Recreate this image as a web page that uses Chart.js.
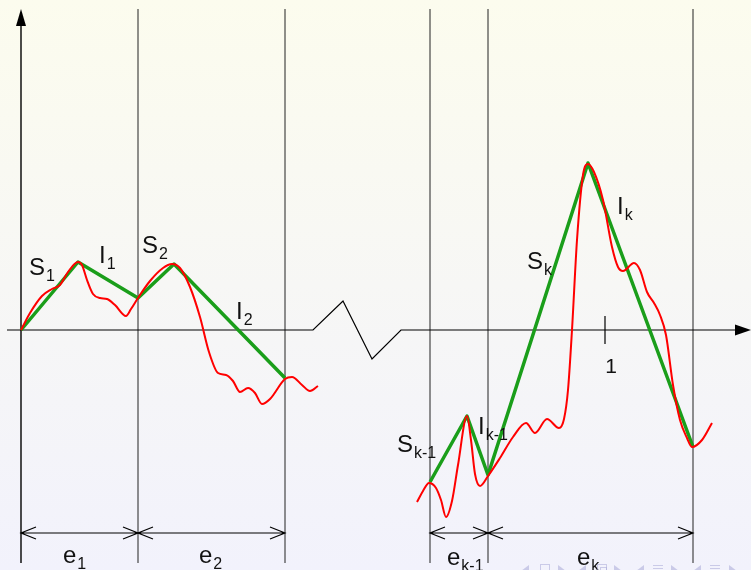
<!DOCTYPE html>
<html>
<head>
<meta charset="utf-8">
<style>
  html, body { margin: 0; padding: 0; overflow: hidden; background: #f7f7f5; }
  #wrap { width: 751px; height: 570px; }
</style>
<script src="https://cdn.jsdelivr.net/npm/chart.js@4/dist/chart.umd.min.js"></script>
</head>
<body>
<div id="wrap"><canvas id="c" width="751" height="570"></canvas></div>
<script>
// Signal (red) over the first two intervals e1, e2
const signalAX = [0, 9, 21, 31, 39, 47, 57, 61, 66, 72, 79, 86, 94, 105, 110, 117, 129, 142, 151, 159, 169, 179, 188, 197, 205, 212, 219, 227, 234, 241, 249, 264, 271, 281, 289, 297];
const signalAY = [0, 17, 34, 41, 45, 58, 68, 65, 50, 36, 32, 31, 25, 14, 21, 32, 49, 62, 66, 62, 43, 13, -22, -43, -45, -51, -62, -58, -63, -74, -69, -49, -47, -55, -61, -56];

// Signal (red) over the intervals e(k-1), ek
const signalBX = [396, 402, 408, 415, 420, 425, 431, 437, 446, 450, 454, 459, 467, 479, 492, 505, 514, 526, 538, 543, 547, 551, 556, 562, 567, 573, 582, 591, 597, 602, 613, 619, 626, 633, 639, 645, 652, 659, 666, 671, 681, 691];
const signalBY = [-172, -161, -153, -158, -170, -187, -171, -135, -86, -110, -144, -156, -146, -128, -107, -93, -103, -89, -98, -89, -60, 0, 90, 155, 166, 158, 130, 83, 63, 59, 67, 60, 38, 27, 15, -5, -55, -90, -108, -117, -110, -93];

// Piecewise-linear approximation (green): slope S / intercept I segments
const approxAX = [0, 57, 117, 153, 264];
const approxAY = [0, 68, 32, 66, -48];
const approxBX = [409, 446, 467, 567, 672];
const approxBY = [-152, -86, -145, 167, -117];

// Interval boundaries and the dimension arrows below them
const boundaries = [117, 264, 409, 467, 672];
const intervals = [[0, 117], [117, 264], [409, 467], [467, 672]];
const intervalNames = ['1', '2', 'k-1', 'k'];

// Horizontal axis with a break between the two groups
const axisPathX = [-14, 292, 322, 351, 380, 730];
const axisPathY = [0, 0, 29, -29, 0, 0];

// Unit tick on the horizontal axis
const unitTick = 584;
const unitLabel = '1';

// Segment labels: base letter, subscript, anchor (baseline-left)
const labelMain = ['S', 'I', 'S', 'I', 'S', 'I', 'S', 'I'];
const labelSub = ['1', '1', '2', '2', 'k-1', 'k-1', 'k', 'k'];
const labelX = [8, 78, 121, 215, 376, 457, 506, 596];
const labelY = [55, 67, 77, 11, -122, -104, 61, 116];

// Interval name anchors
const eLabelX = [42, 178, 426, 556];
const eLabelY = [-233, -233, -235, -235];

const pts = (xs, ys) => xs.map((x, i) => ({ x: x, y: ys[i] }));

const FONT = '"Liberation Sans", Arial, sans-serif';

function drawSubLabel(ctx, px, py, main, sub) {
  ctx.font = '24px ' + FONT;
  ctx.textBaseline = 'alphabetic';
  ctx.textAlign = 'left';
  ctx.fillText(main, px, py);
  const w = ctx.measureText(main).width;
  ctx.font = '16px ' + FONT;
  ctx.fillText(sub, px + w + 1, py + 6);
}

const decor = {
  id: 'decor',
  beforeDraw(chart) {
    const { ctx, width, height } = chart;
    const g = ctx.createLinearGradient(0, 0, 0, height);
    g.addColorStop(0, '#fcfcee');
    g.addColorStop(1, '#f2f2fc');
    ctx.save();
    ctx.fillStyle = g;
    ctx.fillRect(0, 0, width, height);
    ctx.restore();
  },
  beforeDatasetsDraw(chart) {
    const ctx = chart.ctx;
    const xs = chart.scales.x, ys = chart.scales.y;
    const X = v => xs.getPixelForValue(v), Y = v => ys.getPixelForValue(v);
    const top = 321, bottom = -233;
    ctx.save();
    ctx.lineCap = 'butt';

    // interval boundaries
    ctx.strokeStyle = '#222';
    ctx.lineWidth = 1;
    boundaries.forEach(b => {
      ctx.beginPath();
      ctx.moveTo(X(b), Y(top));
      ctx.lineTo(X(b), Y(bottom));
      ctx.stroke();
    });

    // vertical axis with arrow
    ctx.strokeStyle = '#000';
    ctx.lineWidth = 1.4;
    ctx.beginPath();
    ctx.moveTo(X(0), Y(bottom));
    ctx.lineTo(X(0), Y(306));
    ctx.stroke();
    ctx.fillStyle = '#000';
    ctx.beginPath();
    ctx.moveTo(X(0), Y(top));
    ctx.lineTo(X(0) - 5, Y(304));
    ctx.lineTo(X(0) + 5, Y(304));
    ctx.closePath();
    ctx.fill();

    // horizontal axis with break and arrow
    ctx.lineWidth = 1.2;
    ctx.lineJoin = 'miter';
    ctx.beginPath();
    axisPathX.forEach((x, i) => {
      const last = i === axisPathX.length - 1;
      const px = last ? X(x) - 14 : X(x);
      if (i === 0) ctx.moveTo(px, Y(axisPathY[i]));
      else ctx.lineTo(px, Y(axisPathY[i]));
    });
    ctx.stroke();
    const tipX = X(axisPathX[axisPathX.length - 1]);
    ctx.beginPath();
    ctx.moveTo(tipX, Y(0));
    ctx.lineTo(tipX - 16, Y(0) - 5.5);
    ctx.lineTo(tipX - 16, Y(0) + 5.5);
    ctx.closePath();
    ctx.fill();

    // unit tick
    ctx.lineWidth = 1.2;
    ctx.beginPath();
    ctx.moveTo(X(unitTick), Y(14));
    ctx.lineTo(X(unitTick), Y(-14));
    ctx.stroke();

    // dimension arrows
    ctx.lineWidth = 1.2;
    const dy = Y(-203);
    intervals.forEach(([a, b]) => {
      const xa = X(a), xb = X(b);
      ctx.beginPath();
      ctx.moveTo(xa, dy); ctx.lineTo(xb, dy);
      ctx.moveTo(xa + 15, dy - 6); ctx.lineTo(xa, dy); ctx.lineTo(xa + 15, dy + 6);
      ctx.moveTo(xb - 15, dy - 6); ctx.lineTo(xb, dy); ctx.lineTo(xb - 15, dy + 6);
      ctx.stroke();
    });
    ctx.restore();
  },
  afterDatasetsDraw(chart) {
    const ctx = chart.ctx;
    const xs = chart.scales.x, ys = chart.scales.y;
    const X = v => xs.getPixelForValue(v), Y = v => ys.getPixelForValue(v);
    ctx.save();
    ctx.fillStyle = '#111';
    labelMain.forEach((m, i) => drawSubLabel(ctx, X(labelX[i]), Y(labelY[i]), m, labelSub[i]));
    intervalNames.forEach((n, i) => drawSubLabel(ctx, X(eLabelX[i]), Y(eLabelY[i]), 'e', n));

    ctx.font = '21px ' + FONT;
    ctx.textAlign = 'center';
    ctx.fillText(unitLabel, X(unitTick + 6), Y(-43));

    // navigation symbols along the bottom edge
    ctx.fillStyle = 'rgba(170,170,215,0.55)';
    ctx.strokeStyle = 'rgba(170,170,215,0.55)';
    ctx.lineWidth = 1;
    const cy = chart.height + 1;
    const tri = (x, dir) => {
      ctx.beginPath();
      ctx.moveTo(x + dir * 4, cy);
      ctx.lineTo(x - dir * 4, cy - 6);
      ctx.lineTo(x - dir * 4, cy + 6);
      ctx.closePath();
      ctx.fill();
    };
    [[525, -1], [562, 1], [582, -1], [618, 1], [640, -1], [675, 1], [697, -1], [733, 1]].forEach(([x, d]) => tri(x, d));
    ctx.strokeRect(540.5, cy - 6.5, 9, 12);
    ctx.strokeRect(597.5, cy - 6.5, 9, 12);
    ctx.strokeRect(600.5, cy - 3.5, 6, 8);
    [[653, 663], [710, 720]].forEach(([a, b]) => {
      ctx.beginPath();
      ctx.moveTo(a, cy - 5.5); ctx.lineTo(b, cy - 5.5);
      ctx.moveTo(a, cy - 2.5); ctx.lineTo(b, cy - 2.5);
      ctx.stroke();
    });
    ctx.restore();
  }
};

new Chart(document.getElementById('c'), {
  type: 'line',
  data: {
    datasets: [
      { data: pts(signalAX, signalAY), borderColor: '#ff0000', borderWidth: 2, cubicInterpolationMode: 'monotone', order: 1 },
      { data: pts(signalBX, signalBY), borderColor: '#ff0000', borderWidth: 2, cubicInterpolationMode: 'monotone', order: 1 },
      { data: pts(approxAX, approxAY), borderColor: '#1a9e1a', borderWidth: 3.5, tension: 0, order: 2 },
      { data: pts(approxBX, approxBY), borderColor: '#1a9e1a', borderWidth: 3.5, tension: 0, order: 2 }
    ]
  },
  options: {
    responsive: false,
    animation: false,
    events: [],
    layout: { padding: 0 },
    elements: { point: { radius: 0 }, line: { borderJoinStyle: 'round', fill: false } },
    plugins: { legend: { display: false }, tooltip: { enabled: false } },
    scales: {
      x: { type: 'linear', min: -21, max: 730, display: false },
      y: { type: 'linear', min: -240, max: 330, display: false }
    }
  },
  plugins: [decor]
});
</script>
</body>
</html>
